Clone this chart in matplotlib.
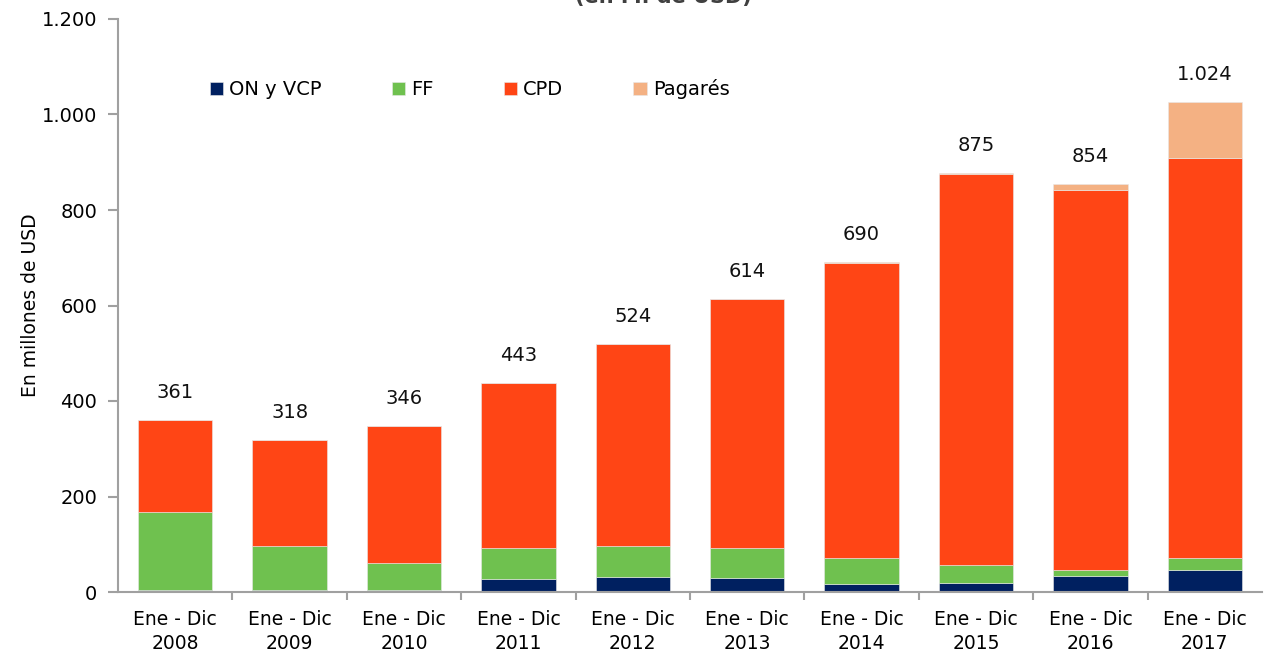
import matplotlib
matplotlib.use("Agg")
import matplotlib.pyplot as plt
import numpy as np
from matplotlib.ticker import FuncFormatter, FixedLocator

plt.rcParams['font.family'] = ['DejaVu Sans']

categories = ["Ene - Dic\n2008", "Ene - Dic\n2009", "Ene - Dic\n2010", "Ene - Dic\n2011",
              "Ene - Dic\n2012", "Ene - Dic\n2013", "Ene - Dic\n2014", "Ene - Dic\n2015",
              "Ene - Dic\n2016", "Ene - Dic\n2017"]
on_vcp = [5, 5, 5, 27, 31, 29, 17, 19, 34, 46]
ff = [162, 91, 56, 65, 65, 63, 54, 37, 12, 25]
cpd = [194, 222, 286, 346, 424, 521, 617, 819, 796, 838]
pagares = [0, 0, 0, 0, 0, 0, 3, 3, 12, 117]
totals = [361, 318, 346, 443, 524, 614, 690, 875, 854, 1024]

series = [("ON y VCP", on_vcp, "#002060"), ("FF", ff, "#6FC14F"),
          ("CPD", cpd, "#FF4515"), ("Pagarés", pagares, "#F4B183")]

fig = plt.figure(figsize=(12.68, 6.53), dpi=100)
ax = fig.add_axes([118/1268, 61/653, 1144/1268, 573/653])

x = np.arange(len(categories))
bottom = np.zeros(len(categories))
for name, vals, col in series:
    ax.bar(x, vals, width=0.65, bottom=bottom, color=col, label=name,
           edgecolor="#e8e8e8", linewidth=0.4)
    bottom += np.array(vals)

def fmt(v):
    return f"{int(v):,}".replace(",", ".")

for xi, top, t in zip(x, bottom, totals):
    ax.annotate(fmt(t), (xi, top), xytext=(0, 13), textcoords="offset points",
                ha="center", va="bottom", fontsize=14, color="#111111")

ax.set_xlim(-0.5, len(categories) - 0.5)
ax.set_ylim(0, 1200)
ax.set_yticks(np.arange(0, 1201, 200))
ax.yaxis.set_major_formatter(FuncFormatter(lambda v, p: fmt(v)))
ax.set_xticks(x)
ax.set_xticklabels(categories, fontsize=13.5, linespacing=1.3)
ax.xaxis.set_minor_locator(FixedLocator(np.arange(0.5, len(categories) - 0.5, 1)))
ax.tick_params(axis='x', which='major', length=0, pad=13)
ax.tick_params(axis='x', which='minor', length=6, color="#a0a0a0", width=1.5)
ax.tick_params(axis='y', labelsize=14, length=7, color="#a0a0a0", width=1.5, pad=8)
for s in ["top", "right"]:
    ax.spines[s].set_visible(False)
for s in ["left", "bottom"]:
    ax.spines[s].set_color("#a0a0a0")
    ax.spines[s].set_linewidth(1.5)

ax.set_ylabel("En millones de USD", fontsize=13.5, labelpad=1)

leg = ax.legend(loc="upper left", bbox_to_anchor=(0.065, 0.925), ncol=4, frameon=False,
                fontsize=14, handlelength=0.7, handleheight=0.7, handletextpad=0.3,
                columnspacing=3.6)

fig.text(663/1268, 1.0 - 3/653, "(en M. de USD)", ha="center", va="baseline",
         fontsize=15, fontweight="bold", color="#404040")

fig.savefig("out.png", dpi=100)
